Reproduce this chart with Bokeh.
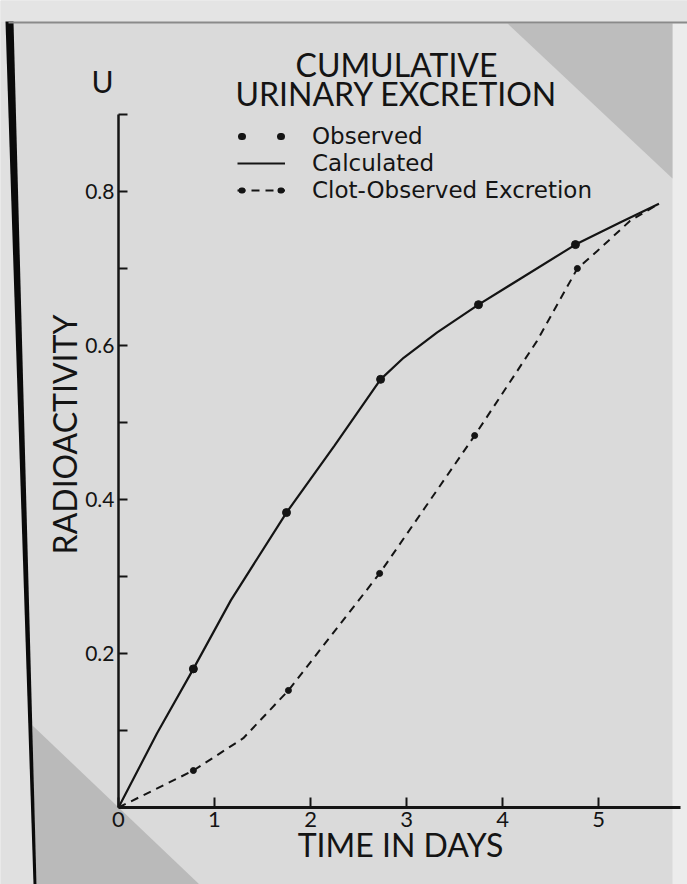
import math
from bokeh.plotting import figure
from bokeh.models import (Range1d, FixedTicker, Label, Legend, LegendItem,
                          PolyAnnotation, CDSView, IndexFilter)
from bokeh.embed import file_html
from bokeh.resources import INLINE

# ---------------- data ----------------
obs_days = [0.78, 1.75, 2.73, 3.75, 4.76]
obs_vals = [0.180, 0.383, 0.556, 0.653, 0.731]

calc_days = [0.0, 0.40, 0.78, 1.17, 1.75, 2.25, 2.73, 2.97, 3.32, 3.75, 4.19, 4.76, 5.23, 5.63]
calc_vals = [0.0, 0.096, 0.180, 0.269, 0.383, 0.470, 0.556, 0.584, 0.617, 0.653, 0.687, 0.731, 0.760, 0.784]

clot_days = [0.0, 0.78, 1.30, 1.77, 2.72, 3.71, 4.36, 4.78, 4.99, 5.33, 5.63]
clot_vals = [0.0, 0.048, 0.090, 0.152, 0.304, 0.483, 0.606, 0.700, 0.723, 0.762, 0.784]
clot_pt_days = [0.78, 1.77, 2.72, 3.71, 4.78]
clot_pt_vals = [0.048, 0.152, 0.304, 0.483, 0.700]

x_ticks = [0, 1, 2, 3, 4, 5]
y_ticks = [0.2, 0.4, 0.6, 0.8]
y_minor = [0.1, 0.3, 0.5, 0.7, 0.9]

FONT = "Lato"
LEG_FONT = "DejaVu Sans"
INK = "#141414"
CARD = "#dadada"

# frame covers the whole canvas; the axes are pinned at day 0 / value 0
p = figure(width=687, height=884, output_backend="svg", toolbar_location=None,
           title=None, x_range=Range1d(-1.2292, 5.927), y_range=Range1d(-0.1, 1.048),
           min_border_left=0, min_border_right=0, min_border_top=0,
           min_border_bottom=0)
p.background_fill_color = CARD
p.border_fill_color = CARD
p.outline_line_color = None
p.grid.visible = False

def poly(xs, ys, color):
    p.add_layout(PolyAnnotation(xs=xs, ys=ys, xs_units="canvas", ys_units="canvas",
                                fill_color=color, fill_alpha=1, line_color=None,
                                level="underlay"))

# decorative photo corners / card edges (canvas pixels)
poly([0, 687, 687, 0], [0, 0, 22, 22], "#e4e4e4")
poly([672, 687, 687, 672], [22, 22, 884, 884], "#ececec")
poly([507, 672, 672], [23, 23, 178], "#bdbdbd")
poly([32, 35, 199], [725, 884, 884], "#bababa")
poly([0, 10, 36, 0], [22, 22, 884, 884], "#e0e0e0")
poly([5, 13, 36, 33], [21, 21, 884, 884], "#0a0a0a")
poly([8, 687, 687, 8], [21, 21, 23, 23], "#8a8a8a")

# axes
xa = p.xaxis[0]
xa.fixed_location = 0
xa.ticker = FixedTicker(ticks=x_ticks, minor_ticks=[])
xa.bounds = (0, 5.85)
xa.axis_line_width = 3
xa.axis_line_color = INK
xa.major_tick_in = 10
xa.major_tick_out = 0
xa.major_tick_line_width = 2
xa.major_tick_line_color = INK
xa.minor_tick_in = 0
xa.minor_tick_out = 0
xa.major_label_standoff = 5
xa.major_label_text_font = FONT
xa.major_label_text_font_size = "22px"
xa.major_label_text_color = INK

ya = p.yaxis[0]
ya.fixed_location = 0
ya.ticker = FixedTicker(ticks=y_ticks, minor_ticks=y_minor)
ya.bounds = (0, 0.9)
ya.axis_line_width = 2.5
ya.axis_line_color = INK
ya.major_tick_in = 9
ya.major_tick_out = 0
ya.minor_tick_in = 9
ya.minor_tick_out = 0
ya.major_tick_line_width = 2
ya.minor_tick_line_width = 2
ya.major_tick_line_color = INK
ya.minor_tick_line_color = INK
ya.major_label_standoff = 4
ya.major_label_text_font = FONT
ya.major_label_text_font_size = "21px"
ya.major_label_text_color = INK

# data
r_calc = p.line(calc_days, calc_vals, line_color=INK, line_width=2.2)
r_clot = p.line(clot_days, clot_vals, line_color=INK, line_width=2, line_dash="8 6")
r_clot_pts = p.scatter(clot_pt_days, clot_pt_vals, size=6, color=INK)
r_obs = p.scatter(obs_days, obs_vals, size=8, color=INK)

# legend swatches: single-point lines (a one-point line draws no stroke in the plot)
r_obs_key = p.line(obs_days, obs_vals, line_color=INK, line_width=7,
                   line_cap="round", line_dash="1 38", line_dash_offset=35,
                   view=CDSView(filter=IndexFilter(indices=[0])))
r_clot_key = p.line(clot_pt_days, clot_pt_vals, line_color=INK, line_width=6,
                    line_cap="round", line_dash="1 38", line_dash_offset=35,
                    view=CDSView(filter=IndexFilter(indices=[0])))

legend = Legend(items=[
    LegendItem(label="Observed", renderers=[r_obs_key]),
    LegendItem(label="Calculated", renderers=[r_calc]),
    LegendItem(label="Clot-Observed Excretion", renderers=[r_clot, r_clot_key]),
], location=(237, 681), padding=0, margin=0, spacing=1,
   glyph_width=48, glyph_height=24, label_height=24, label_standoff=27,
   label_text_font=LEG_FONT, label_text_font_size="23px", label_text_color=INK,
   background_fill_alpha=0, border_line_color=None)
p.add_layout(legend)

# texts (canvas pixels)
def lab(text, x, y, size, angle=0.0):
    p.add_layout(Label(x=x, y=y, x_units="canvas", y_units="canvas", text=text,
                       text_font=FONT, text_font_size=size, text_color=INK,
                       text_align="center", text_baseline="middle", angle=angle))

lab("CUMULATIVE", 396, 64, "32px")
lab("URINARY EXCRETION", 396, 93, "32px")
lab("U", 102, 80, "30px")
lab("RADIOACTIVITY", 64, 434, "32px", angle=math.pi / 2)
lab("TIME IN DAYS", 400, 844, "32px")

open("out.html", "w").write(file_html(p, INLINE))
